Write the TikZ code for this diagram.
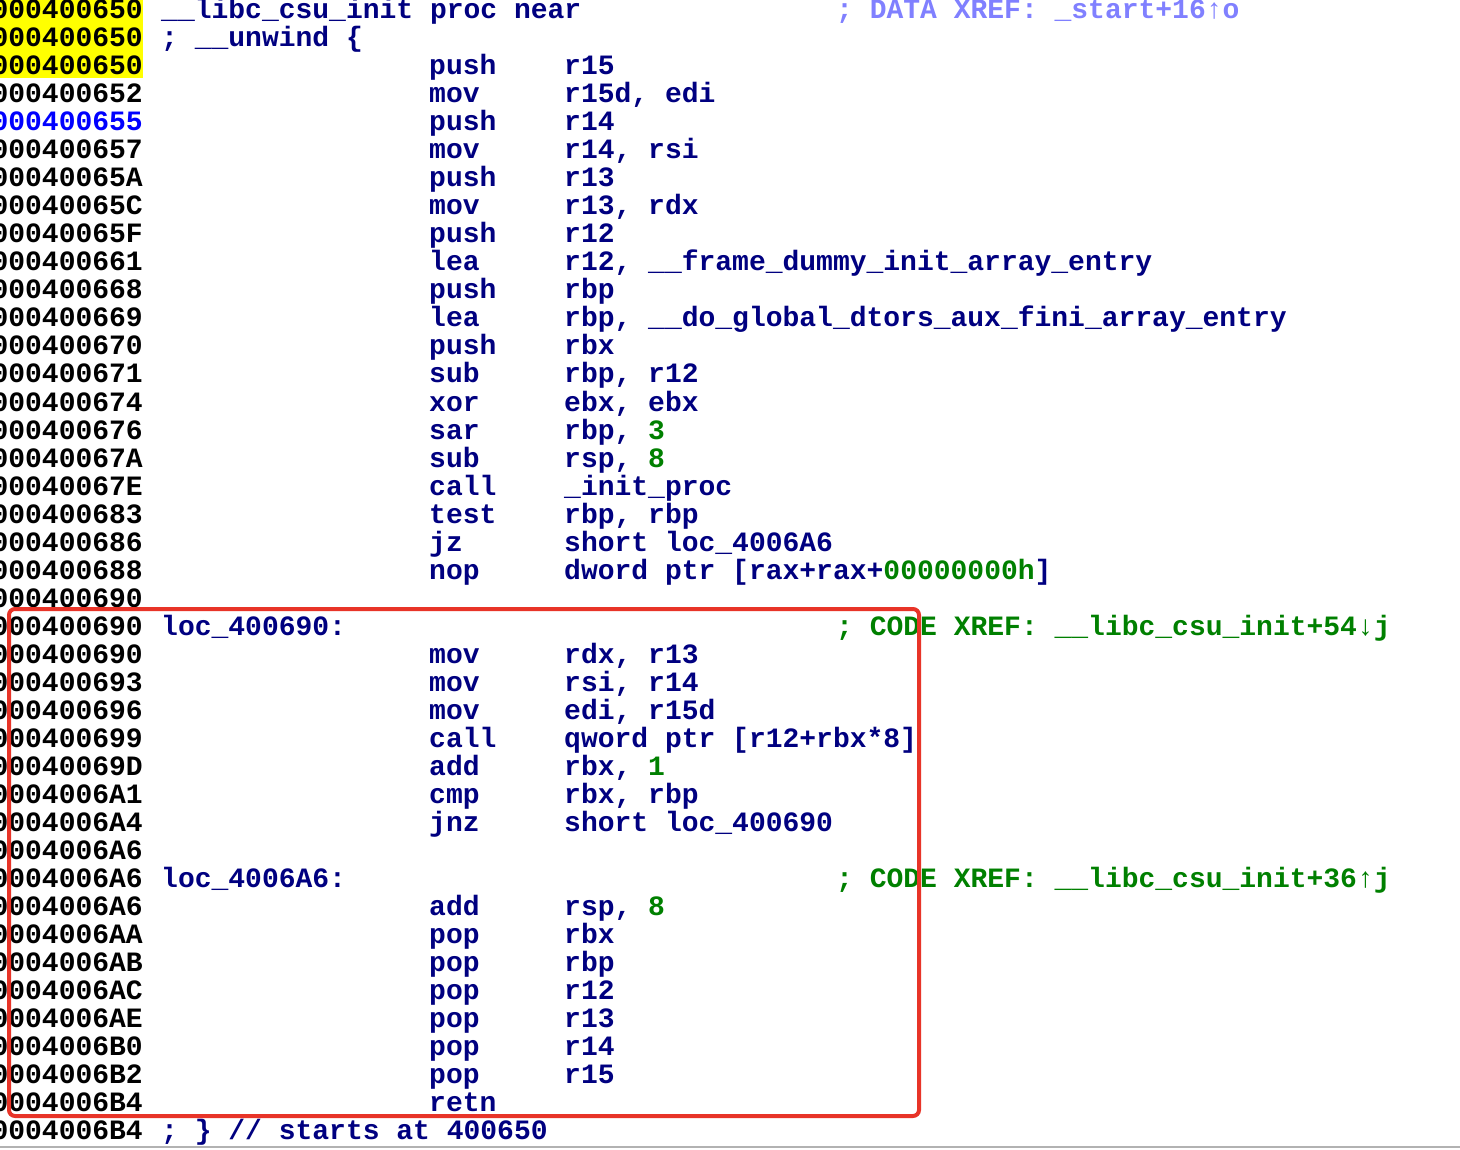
\documentclass[tikz,border=0pt]{standalone}
\usepackage{fontspec}
\newfontfamily\idafont{Liberation Mono}
\definecolor{kw}{RGB}{0,0,128}
\definecolor{num}{RGB}{0,128,0}
\definecolor{dref}{RGB}{128,128,255}
\definecolor{addrblue}{RGB}{0,0,255}
\definecolor{boxred}{RGB}{232,52,40}
\definecolor{hl}{RGB}{255,255,0}
\tikzset{txt/.style={anchor=base west,inner sep=0pt,font=\idafont\bfseries\fontsize{28}{28}\selectfont,text=kw},
addr/.style={anchor=base east,inner sep=0pt,font=\idafont\bfseries\fontsize{28}{28}\selectfont,text=black}}
\newcommand\irow[4]{%
 \node[addr] (a#1) at (143,{10+28*#1+9}) {#2};
 \node[txt] (m#1) at (429,{10+28*#1+9}) {#3};
 \node[txt] (o#1) at (564,{10+28*#1+9}) {#4};}
\begin{document}
\begin{tikzpicture}[x=1pt,y=-1pt]
\useasboundingbox (0,0) rectangle (1460,1150);
\clip (0,0) rectangle (1460,1150);
\fill[white] (0,0) rectangle (1460,1150);
\fill[hl] (0,0) rectangle (143,78);
\irow{0}{0000000000400650}{}{}
\node[txt] (l0) at (161,19) {\_\_libc\_csu\_init proc near};
\node[txt,text=dref] (c0) at (836,19) {; DATA XREF: \_start+16↑o};
\irow{1}{0000000000400650}{}{}
\node[txt] (l1) at (161,47) {; \_\_unwind \{};
\irow{2}{0000000000400650}{push}{r15}
\irow{3}{0000000000400652}{mov}{r15d, edi}
\node[addr,text=addrblue] (a4) at (143,{10+28*4+9}) {0000000000400655};
\node[txt] (m4) at (429,{10+28*4+9}) {push};
\node[txt] (o4) at (564,{10+28*4+9}) {r14};
\irow{5}{0000000000400657}{mov}{r14, rsi}
\irow{6}{000000000040065A}{push}{r13}
\irow{7}{000000000040065C}{mov}{r13, rdx}
\irow{8}{000000000040065F}{push}{r12}
\irow{9}{0000000000400661}{lea}{r12, \_\_frame\_dummy\_init\_array\_entry}
\irow{10}{0000000000400668}{push}{rbp}
\irow{11}{0000000000400669}{lea}{rbp, \_\_do\_global\_dtors\_aux\_fini\_array\_entry}
\irow{12}{0000000000400670}{push}{rbx}
\irow{13}{0000000000400671}{sub}{rbp, r12}
\irow{14}{0000000000400674}{xor}{ebx, ebx}
\irow{15}{0000000000400676}{sar}{rbp, \textcolor{num}{3}}
\irow{16}{000000000040067A}{sub}{rsp, \textcolor{num}{8}}
\irow{17}{000000000040067E}{call}{\_init\_proc}
\irow{18}{0000000000400683}{test}{rbp, rbp}
\irow{19}{0000000000400686}{jz}{short loc\_4006A6}
\irow{20}{0000000000400688}{nop}{dword ptr [rax+rax+\textcolor{num}{00000000h}]}
\irow{21}{0000000000400690}{}{}
\irow{22}{0000000000400690}{}{}
\node[txt] (l22) at (161,{10+28*22+9}) {loc\_400690:};
\node[txt,text=num] (c22) at (836,{10+28*22+9}) {; CODE XREF: \_\_libc\_csu\_init+54↓j};
\irow{23}{0000000000400690}{mov}{rdx, r13}
\irow{24}{0000000000400693}{mov}{rsi, r14}
\irow{25}{0000000000400696}{mov}{edi, r15d}
\irow{26}{0000000000400699}{call}{qword ptr [r12+rbx*8]}
\irow{27}{000000000040069D}{add}{rbx, \textcolor{num}{1}}
\irow{28}{00000000004006A1}{cmp}{rbx, rbp}
\irow{29}{00000000004006A4}{jnz}{short loc\_400690}
\irow{30}{00000000004006A6}{}{}
\irow{31}{00000000004006A6}{}{}
\node[txt] (l31) at (161,{10+28*31+9}) {loc\_4006A6:};
\node[txt,text=num] (c31) at (836,{10+28*31+9}) {; CODE XREF: \_\_libc\_csu\_init+36↑j};
\irow{32}{00000000004006A6}{add}{rsp, \textcolor{num}{8}}
\irow{33}{00000000004006AA}{pop}{rbx}
\irow{34}{00000000004006AB}{pop}{rbp}
\irow{35}{00000000004006AC}{pop}{r12}
\irow{36}{00000000004006AE}{pop}{r13}
\irow{37}{00000000004006B0}{pop}{r14}
\irow{38}{00000000004006B2}{pop}{r15}
\irow{39}{00000000004006B4}{retn}{}
\irow{40}{00000000004006B4}{}{}
\node[txt] (l40) at (161,{10+28*40+9}) {; \} // starts at 400650};
\draw[boxred,line width=4,rounded corners=6] (9,609) rectangle (919,1116);
\draw[gray!60,line width=1.5] (0,1147) -- (1460,1147);
\end{tikzpicture}
\end{document}
